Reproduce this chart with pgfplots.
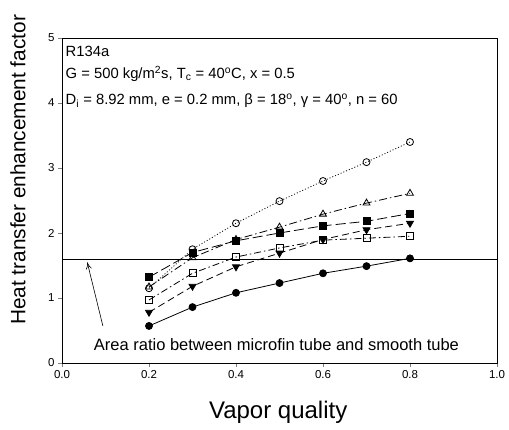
\documentclass[border=0pt]{standalone}
\usepackage{fontspec}
\setmainfont{Liberation Sans}
\usepackage{pgfplots}
\pgfplotsset{compat=1.18}
\usetikzlibrary{calc,arrows.meta}
\begin{document}
\begin{tikzpicture}
\begin{axis}[
  scale only axis, width=435pt, height=325pt,
  xmin=0, xmax=1, ymin=0, ymax=5,
  xtick={0,0.2,0.4,0.6,0.8,1.0}, ytick={0,1,2,3,4,5},
  tick align=outside, tick pos=left, major tick length=4pt,
  /pgf/number format/assume math mode=true,
  xticklabel style={/pgf/number format/.cd, fixed, fixed zerofill, precision=1},
  tick label style={font=\fontsize{11.5}{13}\selectfont},
  xlabel={Vapor quality}, ylabel={Heat transfer enhancement factor},
  xlabel style={at={(axis description cs:0.497,-0.151)}, anchor=center, font=\fontsize{24}{28}\selectfont},
  ylabel style={at={(axis description cs:-0.101,0.594)}, anchor=center, font=\fontsize{20.8}{24}\selectfont},
  axis line style={line width=0.8pt},
  every axis plot/.append style={line width=0.8pt, black, mark size=3.5pt},
  clip=false,
]
% filled circles, solid
\addplot[solid, mark=*, mark options={solid, fill=black}] coordinates {
 (0.2,0.57) (0.3,0.86) (0.4,1.08) (0.5,1.23) (0.6,1.38) (0.7,1.49) (0.8,1.61)};
% open circles, dotted
\addplot[dash pattern=on 1pt off 2pt, mark=o, mark options={solid, fill=white}] coordinates {
 (0.2,1.15) (0.3,1.75) (0.4,2.15) (0.5,2.49) (0.6,2.80) (0.7,3.09) (0.8,3.40)};
% open triangles, dash-dot
\addplot[dash pattern=on 8pt off 3pt on 1.5pt off 3pt, mark=triangle, mark size=4pt, mark options={solid, fill=white}] coordinates {
 (0.2,1.17) (0.3,1.62) (0.4,1.90) (0.5,2.09) (0.6,2.29) (0.7,2.46) (0.8,2.61)};
% filled squares, long dash
\addplot[dash pattern=on 10pt off 4pt, mark=square*, mark options={solid, fill=black}] coordinates {
 (0.2,1.32) (0.3,1.70) (0.4,1.88) (0.5,2.00) (0.6,2.11) (0.7,2.18) (0.8,2.30)};
% filled down triangles, dashed
\addplot[dash pattern=on 7pt off 4pt, mark=triangle*, mark size=4pt, mark options={solid, fill=black, rotate=180}] coordinates {
 (0.2,0.78) (0.3,1.18) (0.4,1.48) (0.5,1.69) (0.6,1.90) (0.7,2.05) (0.8,2.15)};
% open squares, dash-dot
\addplot[dash pattern=on 7pt off 3pt on 1.5pt off 3pt, mark=square, mark options={solid, fill=white}] coordinates {
 (0.2,0.97) (0.3,1.38) (0.4,1.63) (0.5,1.77) (0.6,1.89) (0.7,1.92) (0.8,1.95)};
% area ratio line
\addplot[solid, no marks, line width=1pt] coordinates {(0,1.59) (1,1.59)};
\draw[line width=0.6pt, -{To[length=7pt,width=6pt]}] (axis cs:0.094,0.57) -- (axis cs:0.058,1.55);
\node[anchor=west, font=\fontsize{14.8}{17}\selectfont, inner sep=0pt] at (axis cs:0.008,4.79) {R134a};
\node[anchor=west, font=\fontsize{14.8}{17}\selectfont, inner sep=0pt] at (axis cs:0.008,4.45) {G = 500 kg/m\textsuperscript{2}s, T\textsubscript{c} = 40\textsuperscript{o}C, x = 0.5};
\node[anchor=west, font=\fontsize{14.8}{17}\selectfont, inner sep=0pt] at (axis cs:0.008,4.03) {D\textsubscript{i} = 8.92 mm, e = 0.2 mm, β = 18\textsuperscript{o}, γ = 40\textsuperscript{o}, n = 60};
\node[anchor=center, font=\fontsize{16.5}{19}\selectfont, inner sep=0pt] at (axis cs:0.493,0.28) {Area ratio between microfin tube and smooth tube};
\end{axis}
\pgfresetboundingbox
\path ($(current axis.south west)+(-62pt,-67pt)$) rectangle ($(current axis.north east)+(12pt,38pt)$);
\end{tikzpicture}
\end{document}
